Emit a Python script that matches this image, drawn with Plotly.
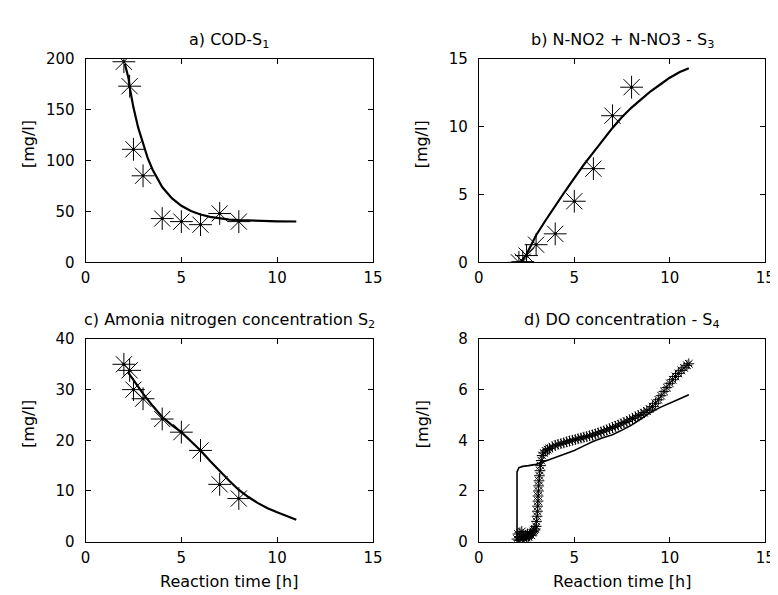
import plotly.graph_objects as go

# ---------------- data ----------------
# a) COD - S1
a_meas_t = [2.0, 2.3, 2.5, 3.0, 4.0, 5.0, 6.0, 7.0, 8.0]
a_meas_y = [197, 173, 111, 85, 43, 40, 37, 48, 40]
a_model_t = [2.05, 2.15, 2.25, 2.3, 2.5, 2.75, 3.0, 3.25, 3.5, 4.0, 4.5, 5.0, 5.5, 6.0, 6.5, 7.0, 7.5, 8.0, 9.0, 10.0, 11.0]
a_model_y = [195, 188, 180, 172, 152, 132, 116, 102, 91, 74, 63, 55.5, 50.4, 47, 44.7, 43, 42, 41.4, 40.6, 40.3, 40.1]

# b) N-NO2 + N-NO3 - S3
b_meas_t = [2.1, 2.3, 2.5, 3.0, 4.0, 5.0, 6.0, 7.0, 8.0]
b_meas_y = [0.0, 0.05, 0.5, 1.3, 2.1, 4.5, 6.9, 10.8, 12.9]
b_model_t = [2.2, 2.5, 2.75, 3.0, 3.5, 4.0, 4.5, 5.0, 5.5, 6.0, 6.5, 7.0, 7.5, 8.0, 8.5, 9.0, 9.5, 10.0, 10.5, 11.0]
b_model_y = [0.0, 0.6, 1.3, 2.0, 3.1, 4.2, 5.2, 6.2, 7.2, 8.1, 9.0, 9.9, 10.7, 11.4, 12.0, 12.6, 13.1, 13.6, 14.0, 14.3]

# c) Ammonia nitrogen - S2
c_meas_t = [2.0, 2.3, 2.5, 3.0, 4.0, 5.0, 6.0, 7.0, 8.0]
c_meas_y = [35.0, 33.8, 30.0, 28.2, 24.2, 21.6, 18.0, 11.3, 8.5]
c_model_t = [2.2, 2.5, 3.0, 3.5, 4.0, 4.5, 5.0, 5.5, 6.0, 6.5, 7.0, 7.5, 8.0, 8.5, 9.0, 9.5, 10.0, 10.5, 11.0]
c_model_y = [33.5, 31.8, 29.2, 26.8, 24.6, 23.0, 21.6, 19.8, 18.0, 15.9, 13.9, 12.0, 10.2, 8.8, 7.6, 6.6, 5.8, 5.0, 4.3]

# d) DO concentration - S4
d_meas_t = [2.0, 2.05, 2.1, 2.15, 2.2, 2.25, 2.3, 2.35, 2.4, 2.45, 2.5, 2.55, 2.6, 2.65, 2.7, 2.75,
            2.8, 2.85, 2.9, 2.95, 3.0, 3.02, 3.05, 3.07, 3.08, 3.1, 3.1, 3.12, 3.13, 3.15, 3.17, 3.2,
            3.23, 3.27, 3.32, 3.4, 3.5, 3.6, 3.7, 3.85, 4.0, 4.15, 4.3, 4.45, 4.6, 4.75, 4.9, 5.05,
            5.2, 5.35, 5.5, 5.65, 5.8, 5.95, 6.1, 6.25, 6.4, 6.55, 6.7, 6.85, 7.0, 7.15, 7.3, 7.45,
            7.6, 7.75, 7.9, 8.05, 8.2, 8.35, 8.5, 8.65, 8.8, 8.95, 9.1, 9.25, 9.4, 9.55, 9.7, 9.85,
            10.0, 10.15, 10.3, 10.45, 10.6, 10.75, 10.9, 11.0]
d_meas_y = [0.1, 0.3, 0.05, 0.35, 0.1, 0.4, 0.15, 0.2, 0.1, 0.25, 0.15, 0.3, 0.2, 0.25, 0.3, 0.25,
            0.35, 0.4, 0.45, 0.5, 0.6, 0.8, 1.0, 1.2, 1.4, 1.6, 1.8, 2.0, 2.2, 2.4, 2.6, 2.8,
            3.0, 3.2, 3.4, 3.5, 3.58, 3.63, 3.68, 3.74, 3.8, 3.84, 3.87, 3.9, 3.94, 3.97, 4.0, 4.03,
            4.06, 4.09, 4.12, 4.15, 4.18, 4.21, 4.25, 4.29, 4.33, 4.37, 4.41, 4.46, 4.5, 4.55, 4.6, 4.65,
            4.7, 4.75, 4.81, 4.86, 4.92, 4.98, 5.03, 5.09, 5.16, 5.23, 5.33, 5.46, 5.6, 5.76, 5.93, 6.08,
            6.25, 6.39, 6.52, 6.64, 6.76, 6.86, 6.96, 7.02]
d_model_t = [2.0, 2.0, 2.1, 2.3, 2.6, 3.0, 3.5, 4.0, 4.5, 5.0, 5.5, 6.0, 6.5, 7.0, 7.5, 8.0, 8.5, 9.0, 9.5, 10.0, 10.5, 11.0]
d_model_y = [0.0, 2.75, 2.92, 2.97, 3.0, 3.05, 3.18, 3.32, 3.46, 3.6, 3.78, 3.96, 4.1, 4.22, 4.4, 4.6, 4.85, 5.1, 5.3, 5.45, 5.63, 5.8]

titles = ["a) COD-S<sub>1</sub>", "b) N-NO2 + N-NO3 - S<sub>3</sub>",
          "c) Amonia nitrogen concentration S<sub>2</sub>", "d) DO concentration - S<sub>4</sub>"]
y_ranges = [[0, 200], [0, 15], [0, 40], [0, 8]]
y_dticks = [50, 5, 10, 2]
x_label = "Reaction time [h]"
y_label = "[mg/l]"

# ---------------- layout geometry ----------------
W, H = 778, 595
x_doms = [[74 / W, 367 / W], [475 / W, 767 / W], [74 / W, 367 / W], [475 / W, 767 / W]]
top_dom = [1 - 253 / H, 1 - 43 / H]
bot_dom = [1 - 541 / H, 1 - 332 / H]
y_doms = [top_dom, top_dom, bot_dom, bot_dom]

FONT = "DejaVu Sans"
FS = 16
TFS = 15

fig = go.Figure()

panels = [
    (a_meas_t, a_meas_y, a_model_t, a_model_y, 19, 2.2),
    (b_meas_t, b_meas_y, b_model_t, b_model_y, 19, 2.2),
    (c_meas_t, c_meas_y, c_model_t, c_model_y, 19, 2.2),
    (d_meas_t, d_meas_y, d_model_t, d_model_y, 9, 1.6),
]

for i, (mt, my, ct, cy, msize, lw) in enumerate(panels):
    xa = "x" if i == 0 else f"x{i+1}"
    ya = "y" if i == 0 else f"y{i+1}"
    fig.add_trace(go.Scatter(x=ct, y=cy, mode="lines", xaxis=xa, yaxis=ya,
                             line=dict(color="black", width=lw), showlegend=False))
    fig.add_trace(go.Scatter(x=mt, y=my, mode="markers", xaxis=xa, yaxis=ya,
                             marker=dict(symbol="asterisk-open", size=msize,
                                         line=dict(color="black", width=1), color="black"),
                             showlegend=False))
    if i < 3:
        fig.add_trace(go.Scatter(x=mt, y=my, mode="markers", xaxis=xa, yaxis=ya,
                                 marker=dict(symbol="circle", size=3, color="black"),
                                 showlegend=False))

layout = dict(width=W, height=H, margin=dict(l=0, r=0, t=0, b=0),
              paper_bgcolor="white", plot_bgcolor="white",
              font=dict(family=FONT, size=FS, color="black"), showlegend=False)

axis_common = dict(showline=True, linecolor="black", linewidth=1, mirror="allticks",
                   ticks="inside", ticklen=5, tickcolor="black", showgrid=False,
                   zeroline=False, tickfont=dict(family=FONT, size=TFS, color="black"))

annotations = []
for i in range(4):
    sx = "xaxis" if i == 0 else f"xaxis{i+1}"
    sy = "yaxis" if i == 0 else f"yaxis{i+1}"
    ya = "y" if i == 0 else f"y{i+1}"
    xa = "x" if i == 0 else f"x{i+1}"
    layout[sx] = dict(axis_common, domain=x_doms[i], range=[0, 15], tick0=0, dtick=5,
                      anchor=ya, ticklabelstandoff=2)
    layout[sy] = dict(axis_common, domain=y_doms[i], range=y_ranges[i], tick0=0,
                      dtick=y_dticks[i], anchor=xa, ticklabelstandoff=7)
    cx = (x_doms[i][0] + x_doms[i][1]) / 2
    cyc = (y_doms[i][0] + y_doms[i][1]) / 2
    annotations.append(dict(text=titles[i], xref="paper", yref="paper", x=cx, y=y_doms[i][1],
                            xanchor="center", yanchor="bottom", yshift=6, showarrow=False,
                            font=dict(family=FONT, size=FS, color="black")))
    annotations.append(dict(text=y_label, xref="paper", yref="paper", x=x_doms[i][0], y=cyc,
                            xanchor="center", yanchor="middle", xshift=-57, yshift=16,
                            textangle=-90, showarrow=False,
                            font=dict(family=FONT, size=FS, color="black")))
    if i >= 2:
        annotations.append(dict(text=x_label, xref="paper", yref="paper", x=cx, y=y_doms[i][0],
                                xanchor="center", yanchor="top", yshift=-28, showarrow=False,
                                font=dict(family=FONT, size=FS, color="black")))

layout["annotations"] = annotations
fig.update_layout(**layout)
fig.write_html("out.html")
